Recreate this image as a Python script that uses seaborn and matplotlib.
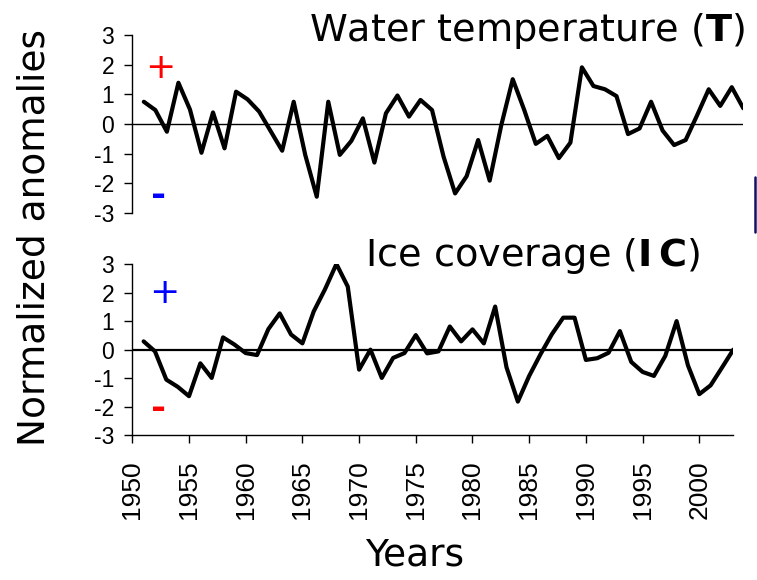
import numpy as np
import pandas as pd
import matplotlib
matplotlib.use('Agg')
import matplotlib.pyplot as plt
import seaborn as sns
from matplotlib.lines import Line2D

# Data
years = list(range(1951, 2004))

water_temp = [0.75, 0.47, -0.26, 1.39, 0.49, -0.97, 0.39, -0.82, 1.09, 0.83,
              0.42, -0.24, -0.90, 0.75, -1.04, -2.45, 0.75, -1.04, -0.57, 0.19,
              -1.30, 0.36, 0.96, 0.25, 0.81, 0.47, -1.10, -2.34, -1.76, -0.54,
              -1.91, -0.05, 1.51, 0.47, -0.67, -0.40, -1.15, -0.63, 1.91, 1.28,
              1.17, 0.94, -0.34, -0.15, 0.75, -0.22, -0.71, -0.54, 0.30, 1.17,
              0.61, 1.24, 0.53]

ice_cover = [0.29, -0.06, -1.05, -1.30, -1.63, -0.48, -0.99, 0.43, 0.18, -0.12,
             -0.19, 0.72, 1.27, 0.53, 0.22, 1.34, 2.12, 3.00, 2.21, -0.70,
             0.00, -0.99, -0.29, -0.12, 0.51, -0.13, -0.06, 0.81, 0.29, 0.71,
             0.22, 1.51, -0.62, -1.82, -0.92, -0.16, 0.54, 1.12, 1.12, -0.36,
             -0.30, -0.11, 0.65, -0.43, -0.78, -0.92, -0.22, 1.00, -0.55, -1.56,
             -1.25, -0.63, 0.00]

y_ticks = [-3, -2, -1, 0, 1, 2, 3]
x_ticks = list(range(1950, 2001, 5))

df_t = pd.DataFrame({'Year': years, 'Anomaly': water_temp})
df_ic = pd.DataFrame({'Year': years, 'Anomaly': ice_cover})

sns.set_style('white')
plt.rcParams['font.family'] = ['DejaVu Sans']
plt.rcParams['mathtext.fontset'] = 'dejavusans'
plt.rcParams['text.color'] = 'black'
plt.rcParams['xtick.color'] = 'black'
plt.rcParams['ytick.color'] = 'black'
plt.rcParams['axes.labelcolor'] = 'black'

W, H = 757, 580
fig = plt.figure(figsize=(W / 100, H / 100), dpi=100)

ax_t = fig.add_axes([132.3 / W, 1 - 213 / H, (743.3 - 132.3) / W, (213 - 35) / H])
ax_ic = fig.add_axes([132.3 / W, 1 - 435.3 / H, (733.3 - 132.3) / W, (435.3 - 264) / H])

tick_font = {'family': 'Liberation Sans', 'size': 16.5}

for ax, df, zlw in [(ax_t, df_t, 1.0), (ax_ic, df_ic, 1.6)]:
    ax.axhline(0, color='black', lw=zlw, zorder=1)
    sns.lineplot(data=df, x='Year', y='Anomaly', ax=ax, color='black', lw=3.0, zorder=3)
    ax.set_xlim(1950, 2003)
    ax.set_ylim(-3, 3)
    ax.set_yticks(y_ticks)
    ax.set_yticklabels([str(v) for v in y_ticks], fontdict=tick_font)
    ax.tick_params(axis='y', direction='out', length=6, width=1, color='black',
                   labelcolor='black', pad=7, left=True)
    ax.set_xlabel('')
    ax.set_ylabel('')
    for s in ['top', 'right']:
        ax.spines[s].set_visible(False)
    ax.spines['left'].set_color('black')
    ax.spines['left'].set_linewidth(1)
    ax.set_facecolor('none')

# top panel: no x axis
ax_t.spines['bottom'].set_visible(False)
ax_t.set_xticks([])

# bottom panel x axis
ax_ic.spines['bottom'].set_color('black')
ax_ic.spines['bottom'].set_linewidth(1)
ax_ic.set_xticks(x_ticks)
ax_ic.set_xticklabels([str(v) for v in x_ticks], rotation=90,
                      fontdict={'family': 'Liberation Sans', 'size': 19})
ax_ic.tick_params(axis='x', direction='out', length=6, width=1, color='black',
                  labelcolor='black', pad=12, bottom=True)

# sign markers
ax_t.text(1952.4, 2.0, '+', color='red', fontsize=26, ha='center', va='center_baseline')
ax_t.text(1952.3, -2.3, '-', color='blue', fontsize=26, fontweight='bold', ha='center', va='center_baseline')
ax_ic.text(1952.8, 2.1, '+', color='blue', fontsize=26, ha='center', va='center_baseline')
ax_ic.text(1952.3, -1.95, '-', color='red', fontsize=26, fontweight='bold', ha='center', va='center_baseline')

# panel titles
fig.text(745 / W, 1 - 31 / H, r'Water temperature ($\mathbf{T}$)', fontsize=27.5,
         ha='right', va='center')
fig.text(700 / W, 1 - 256 / H, r'Ice coverage ($\mathbf{I\,C}$)', fontsize=27.5,
         ha='right', va='center')

fig.text(35 / W, 1 - 238 / H, 'Normalized anomalies', fontsize=27, rotation=90,
         ha='center', va='center')
fig.text(415 / W, 1 - 555 / H, 'Years', fontsize=27, ha='center', va='center')

# stray vertical mark at the right edge
fig.add_artist(Line2D([755 / W, 755 / W], [1 - 177 / H, 1 - 232 / H],
                      color='#10106a', lw=1.8, transform=fig.transFigure))

fig.savefig('out.png', dpi=100)
